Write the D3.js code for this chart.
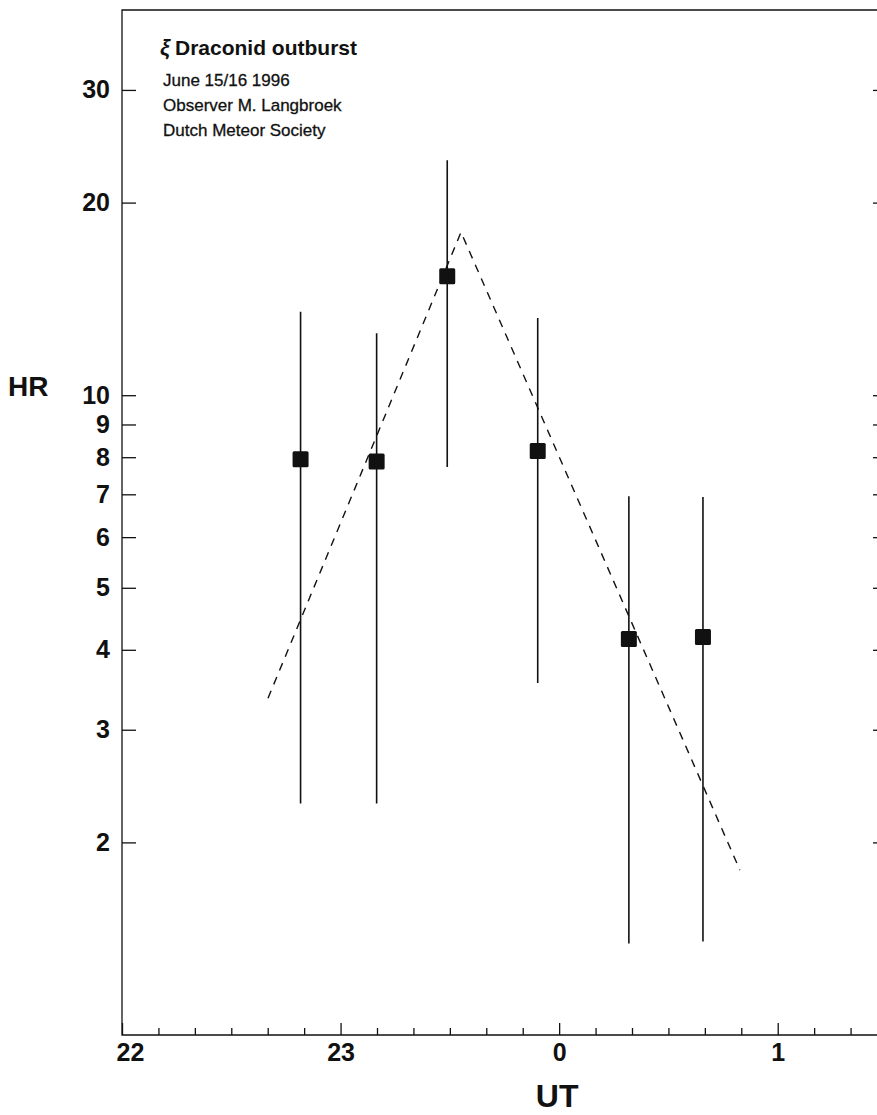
<!DOCTYPE html>
<html>
<head>
<meta charset="utf-8">
<script src="https://cdn.jsdelivr.net/npm/d3@7"></script>
<style>
  html, body { margin: 0; padding: 0; background: #fff; }
  svg { display: block; font-family: "Liberation Sans", Arial, sans-serif; }
</style>
</head>
<body>
<script>
// observation times in decimal hours UT (24 = 0h, 25 = 1h)
const obsTimes = [22.817, 23.165, 23.488, 23.902, 24.319, 24.658];
const obsHR = [7.94, 7.88, 15.35, 8.18, 4.16, 4.19];
const obsLow = [2.30, 2.30, 7.72, 3.55, 1.39, 1.40];
const obsHigh = [13.5, 12.5, 23.3, 13.2, 6.95, 6.93];

// dashed trend line
const fitTimes = [22.668, 23.551, 24.827];
const fitHR = [3.36, 17.98, 1.81];

const yTickValues = [2, 3, 4, 5, 6, 7, 8, 9, 10, 20, 30];
const xMajorHours = [22, 23, 24, 25];
const xMajorLabels = ["22", "23", "0", "1"];

const titleLines = ["Draconid outburst", "June 15/16 1996", "Observer M. Langbroek", "Dutch Meteor Society"];

const W = 877, H = 1115;
const plotLeft = 122, plotRight = 887, plotTop = 10, plotBottom = 1035;

const svg = d3.select("body").append("svg")
  .attr("width", W)
  .attr("height", H);

const x = d3.scaleLinear().domain([22, 25.5]).range([plotLeft, plotRight]);
const y = d3.scaleLog().domain([1, 40]).range([plotBottom, plotTop]);

// frame
svg.append("path")
  .attr("d", "M" + plotLeft + "," + plotTop + " L" + plotRight + "," + plotTop + " L" + plotRight + "," + plotBottom + " L" + plotLeft + "," + plotBottom + " Z")
  .attr("fill", "none")
  .attr("stroke", "#111")
  .attr("stroke-width", 1.3);

// left axis
const yAxisL = d3.axisLeft(y).tickValues(yTickValues).tickSize(-14).tickPadding(12).tickFormat(d3.format("d"));
const gL = svg.append("g").attr("transform", "translate(" + plotLeft + ",0)").call(yAxisL);
gL.select(".domain").remove();
gL.selectAll(".tick line").attr("stroke", "#111").attr("stroke-width", 1.3);
gL.selectAll(".tick text")
  .attr("fill", "#111")
  .style("font-size", "25px")
  .style("font-weight", "bold");

// right axis ticks
const yAxisR = d3.axisRight(y).tickValues(yTickValues).tickSize(-14).tickFormat("");
const gR = svg.append("g").attr("transform", "translate(" + plotRight + ",0)").call(yAxisR);
gR.select(".domain").remove();
gR.selectAll(".tick line").attr("stroke", "#111").attr("stroke-width", 1.3);

// bottom axis: minor ticks every 10 minutes
const minorTicks = d3.range(22 + 1 / 6, 25.5, 1 / 6).filter(h => Math.abs(h - Math.round(h)) > 0.01);
const gMinor = svg.append("g").attr("transform", "translate(0," + plotBottom + ")")
  .call(d3.axisBottom(x).tickValues(minorTicks).tickSize(-7).tickFormat(""));
gMinor.select(".domain").remove();
gMinor.selectAll(".tick line").attr("stroke", "#111").attr("stroke-width", 1.3);

const gMajor = svg.append("g").attr("transform", "translate(0," + plotBottom + ")")
  .call(d3.axisBottom(x).tickValues(xMajorHours).tickSize(-12).tickPadding(8)
    .tickFormat((d, i) => xMajorLabels[i]));
gMajor.select(".domain").remove();
gMajor.selectAll(".tick line").attr("stroke", "#111").attr("stroke-width", 1.3);
gMajor.selectAll(".tick text")
  .attr("fill", "#111")
  .attr("dx", d => d === 22 ? 8 : 0)
  .style("font-size", "25px")
  .style("font-weight", "bold");

// axis titles
svg.append("text")
  .attr("x", 8).attr("y", 396)
  .style("font-size", "28px").style("font-weight", "bold")
  .attr("fill", "#111")
  .text("HR");

svg.append("text")
  .attr("x", x(24) - 2).attr("y", 1107)
  .attr("text-anchor", "middle")
  .style("font-size", "32px").style("font-weight", "bold")
  .attr("fill", "#111")
  .text("UT");

// title block
const tb = svg.append("g");
tb.append("text")
  .attr("x", 160).attr("y", 55)
  .style("font-size", "22px").style("font-weight", "bold").style("font-style", "italic")
  .attr("fill", "#111")
  .text("ξ");
tb.append("text")
  .attr("x", 175).attr("y", 55)
  .style("font-size", "21px").style("font-weight", "bold")
  .attr("fill", "#111")
  .text(titleLines[0]);
[86, 111, 136].forEach((yy, i) => {
  tb.append("text")
    .attr("x", 163).attr("y", yy)
    .style("font-size", "17px")
    .attr("fill", "#111")
    .attr("stroke", "#111")
    .attr("stroke-width", 0.3)
    .text(titleLines[i + 1]);
});

// dashed fit line
const fitData = fitTimes.map((t, i) => ({ t: t, v: fitHR[i] }));
svg.append("path")
  .datum(fitData)
  .attr("d", d3.line().x(d => x(d.t)).y(d => y(d.v)))
  .attr("fill", "none")
  .attr("stroke", "#111")
  .attr("stroke-width", 1.4)
  .attr("stroke-dasharray", "8,7");

// error bars and markers
const obs = obsTimes.map((t, i) => ({ t: t, v: obsHR[i], lo: obsLow[i], hi: obsHigh[i] }));
const pts = svg.append("g");
pts.selectAll(".err")
  .data(obs)
  .enter()
  .append("line")
  .attr("class", "err")
  .attr("x1", d => x(d.t)).attr("x2", d => x(d.t))
  .attr("y1", d => y(d.lo)).attr("y2", d => y(d.hi))
  .attr("stroke", "#111")
  .attr("stroke-width", 1.6);
pts.selectAll(".mark")
  .data(obs)
  .enter()
  .append("rect")
  .attr("class", "mark")
  .attr("x", d => x(d.t) - 8)
  .attr("y", d => y(d.v) - 8)
  .attr("width", 16).attr("height", 16)
  .attr("rx", 1.5)
  .attr("fill", "#111");
</script>
</body>
</html>
